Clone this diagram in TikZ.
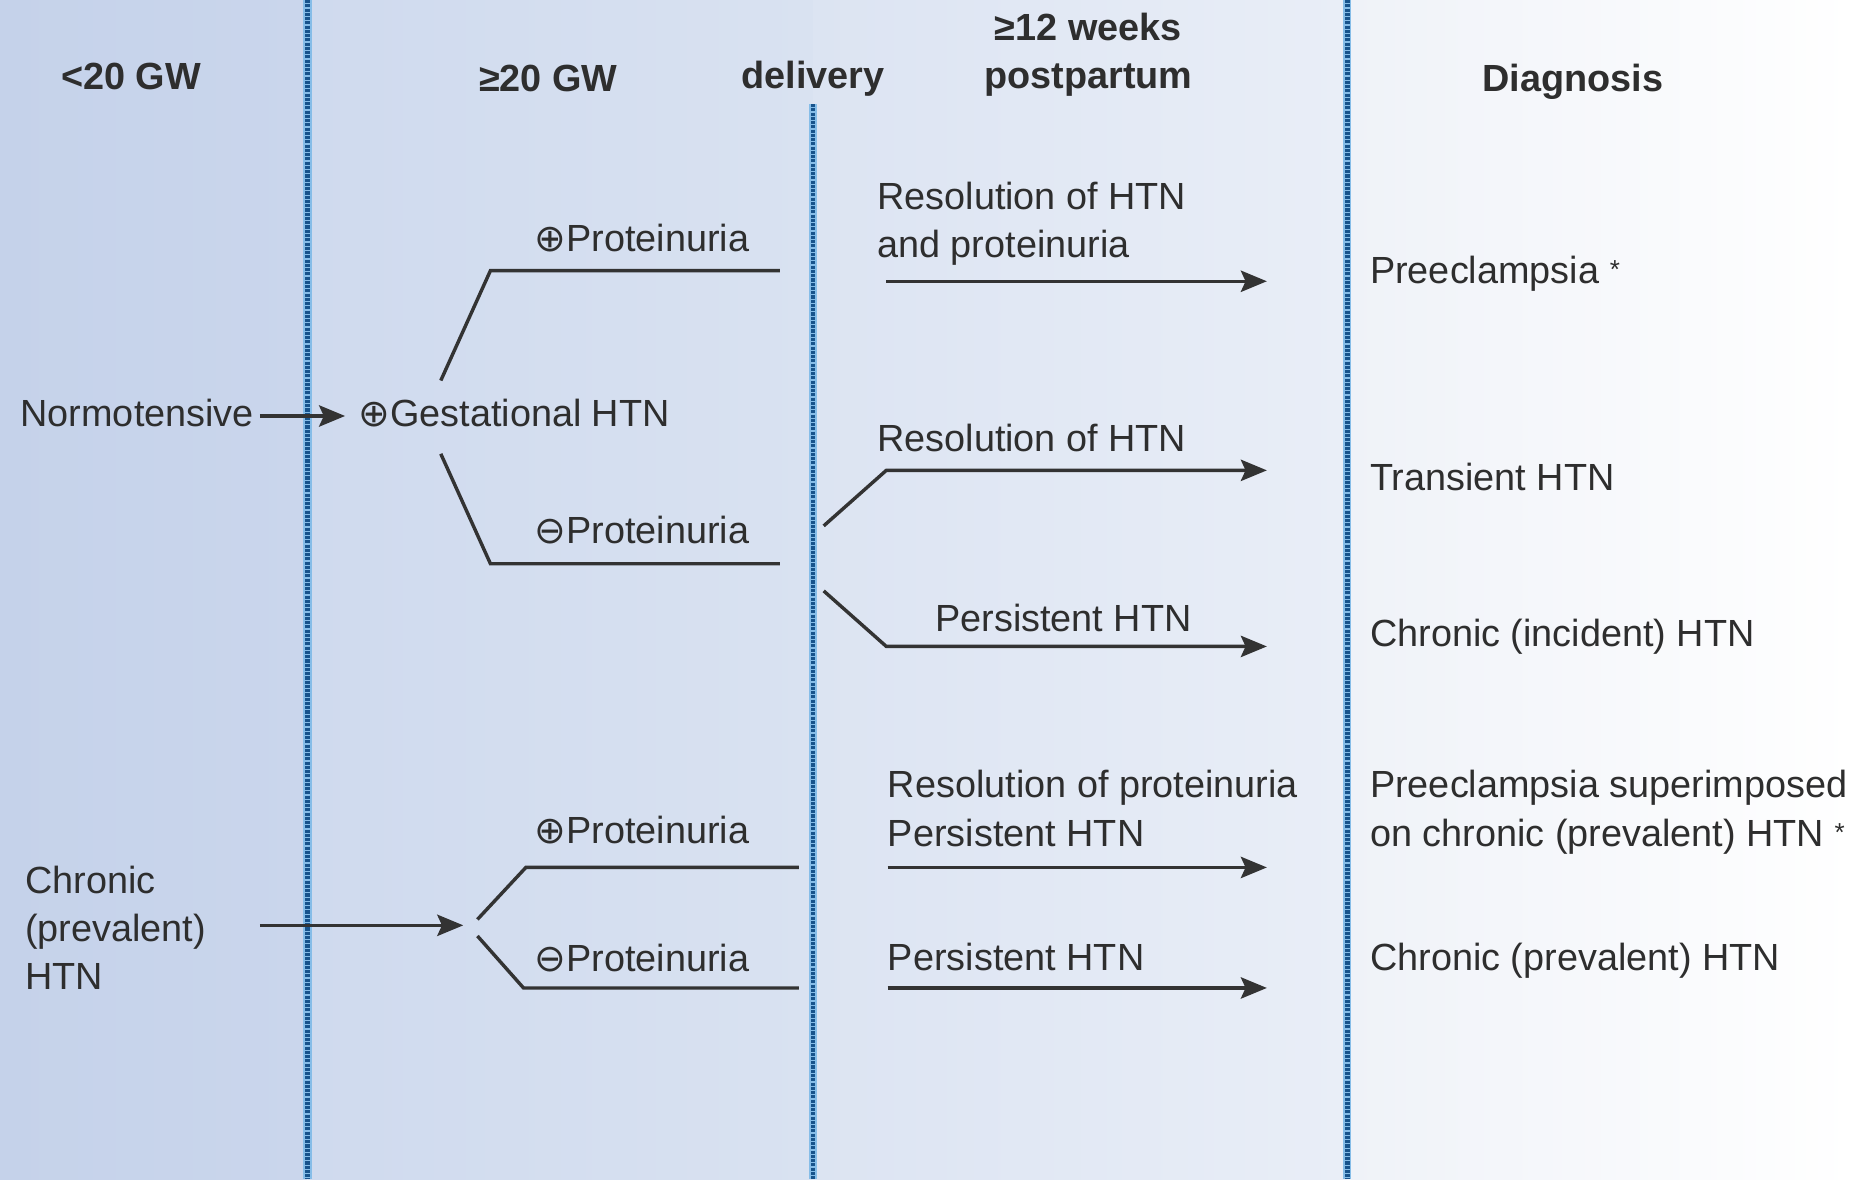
\documentclass[tikz,border=0pt]{standalone}
\usepackage{fontspec}
\setmainfont{Liberation Sans}
\newfontfamily\symfont{DejaVu Sans}
\usetikzlibrary{arrows.meta}
\definecolor{txt}{HTML}{2E2E2E}
\definecolor{ln}{HTML}{333333}
\definecolor{sepdark}{HTML}{17538C}
\definecolor{sepglow}{HTML}{86BDE8}
\definecolor{bgA}{HTML}{C5D2EA}
\definecolor{bgB}{HTML}{CAD6EC}
\definecolor{bgC}{HTML}{CFDAEE}
\definecolor{bgD}{HTML}{D9E2F1}
\definecolor{bgE}{HTML}{DCE4F2}
\definecolor{bgF}{HTML}{E9EEF7}
\definecolor{bgG}{HTML}{EFF2F8}
\newcommand\myoplus{{\symfont ⊕}}
\newcommand\myominus{{\symfont ⊖}}
\newcommand\myast{\raisebox{2pt}{\fontsize{11}{11}\selectfont *}}
\begin{document}
\begin{tikzpicture}[x=0.5pt,y=-0.5pt,
 lbl/.style={anchor=base west, inner sep=0pt, text=txt, font=\fontsize{16}{19}\selectfont},
 hdr/.style={anchor=base, inner sep=0pt, text=txt, font=\fontsize{16}{19}\selectfont\bfseries},
 conn/.style={draw=ln, line width=1.45pt},
 arr/.style={conn, -{Stealth[length=11pt,width=9pt,inset=2pt]}},
 sepglowline/.style={draw=sepglow, line width=3.6pt},
 sepline/.style={draw=sepdark, line width=2pt, dash pattern=on 1.3pt off 0.5pt}]
\useasboundingbox (0,0) rectangle (1568,998);
% background
\fill[left color=bgA, right color=bgB] (0,0) rectangle (260,998);
\fill[left color=bgC, right color=bgD] (260,0) rectangle (688,998);
\fill[left color=bgE, right color=bgF] (688,0) rectangle (1140,998);
\fill[left color=bgG, right color=white] (1140,0) rectangle (1568,998);
% separators
\coordinate (s1t) at (260,0);   \coordinate (s1b) at (260,998);
\coordinate (s2t) at (688,88);  \coordinate (s2b) at (688,998);
\coordinate (s3t) at (1140,0);  \coordinate (s3b) at (1140,998);
\foreach \a/\b in {s1t/s1b,s2t/s2b,s3t/s3b}{
  \draw[sepglowline] (\a) -- (\b);
  \draw[sepline] (\a) -- (\b);
}
% headers
\node[hdr] (h1) at (111,76) {<20 GW};
\node[hdr] (h2) at (464,77) {≥20 GW};
\node[hdr] (h3) at (688,75) {delivery};
\node[hdr] (h4a) at (921,34) {≥12 weeks};
\node[hdr] (h4b) at (921,75) {postpartum};
\node[hdr] (h5) at (1331,77) {Diagnosis};
% left column
\node[lbl] (normo) at (17,361) {Normotensive};
\node[lbl] (chr1) at (21,756) {Chronic};
\node[lbl] (chr2) at (21,797) {(prevalent)};
\node[lbl] (chr3) at (21,837) {HTN};
% gestational
\node[lbl] (gest) at (303,361) {\myoplus Gestational HTN};
\node[lbl] (pp1) at (452,213) {\myoplus Proteinuria};
\node[lbl] (pm1) at (452,460) {\myominus Proteinuria};
\node[lbl] (pp2) at (452,714) {\myoplus Proteinuria};
\node[lbl] (pm2) at (452,822) {\myominus Proteinuria};
% postpartum labels
\node[lbl] (r1a) at (742,177) {Resolution of HTN};
\node[lbl] (r1b) at (742,218) {and proteinuria};
\node[lbl] (r2) at (742,382) {Resolution of HTN};
\node[lbl] (r3) at (791,534) {Persistent HTN};
\node[lbl] (r4a) at (751,675) {Resolution of proteinuria};
\node[lbl] (r4b) at (751,716) {Persistent HTN};
\node[lbl] (r5) at (751,821) {Persistent HTN};
% diagnosis
\node[lbl] (d1) at (1159,240) {Preeclampsia \myast};
\node[lbl] (d2) at (1159,415) {Transient HTN};
\node[lbl] (d3) at (1159,547) {Chronic (incident) HTN};
\node[lbl] (d4a) at (1159,675) {Preeclampsia superimposed};
\node[lbl] (d4b) at (1159,716) {on chronic (prevalent) HTN \myast};
\node[lbl] (d5) at (1159,821) {Chronic (prevalent) HTN};
% coordinates
\coordinate (na) at (220,352); \coordinate (nb) at (292,352);
\coordinate (ca) at (220,783); \coordinate (cb) at (392,783);
\coordinate (g1) at (373,322); \coordinate (g1k) at (415,229); \coordinate (g1e) at (660,229);
\coordinate (g2) at (373,384); \coordinate (g2k) at (415,477); \coordinate (g2e) at (660,477);
\coordinate (c1) at (404,778); \coordinate (c1k) at (445,734); \coordinate (c1e) at (676,734);
\coordinate (c2) at (404,792); \coordinate (c2k) at (443,836); \coordinate (c2e) at (676,836);
\coordinate (a1s) at (750,238); \coordinate (a1e) at (1072,238);
\coordinate (a2s) at (697,445); \coordinate (a2k) at (750,398); \coordinate (a2e) at (1072,398);
\coordinate (a3s) at (697,500); \coordinate (a3k) at (750,547); \coordinate (a3e) at (1072,547);
\coordinate (a4s) at (751,734); \coordinate (a4e) at (1072,734);
\coordinate (a5s) at (751,836); \coordinate (a5e) at (1072,836);
% connectors
\draw[arr] (na) -- (nb);
\draw[arr] (ca) -- (cb);
\draw[conn] (g1) -- (g1k) -- (g1e);
\draw[conn] (g2) -- (g2k) -- (g2e);
\draw[conn] (c1) -- (c1k) -- (c1e);
\draw[conn] (c2) -- (c2k) -- (c2e);
\draw[arr] (a1s) -- (a1e);
\draw[arr] (a2s) -- (a2k) -- (a2e);
\draw[arr] (a3s) -- (a3k) -- (a3e);
\draw[arr] (a4s) -- (a4e);
\draw[arr] (a5s) -- (a5e);
\end{tikzpicture}
\end{document}
